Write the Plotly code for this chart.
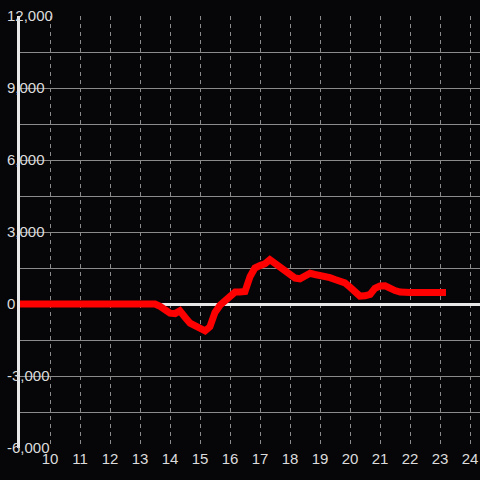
import plotly.graph_objects as go

hours = [9.0, 13.5, 13.67, 13.83, 14.0, 14.17, 14.33, 14.5, 14.67, 14.83, 15.0, 15.17,
         15.33, 15.5, 15.67, 15.83, 16.0, 16.17, 16.33, 16.5, 16.67, 16.83, 17.0,
         17.17, 17.33, 17.5, 17.67, 17.83, 18.0, 18.17, 18.33, 18.5, 18.67, 18.83,
         19.0, 19.17, 19.33, 19.5, 19.67, 19.83, 20.0, 20.17, 20.33, 20.5, 20.67,
         20.83, 21.0, 21.17, 21.33, 21.5, 21.67, 21.83, 22.0, 22.5, 23.0, 23.2]
values = [0, 0, -100, -250, -380, -400, -280, -550, -800, -900, -1050, -1120,
          -950, -350, -50, 150, 300, 500, 500, 520, 1150, 1500, 1600,
          1680, 1850, 1700, 1500, 1350, 1200, 1080, 1050, 1200, 1280, 1230,
          1200, 1150, 1100, 1020, 980, 880, 700, 480, 330, 340, 400,
          650, 750, 760, 650, 560, 500, 480, 480, 480, 480, 480]

x_ticks = list(range(10, 25))
y_ticks = [-6000, -3000, 0, 3000, 6000, 9000, 12000]
y_tick_labels = ["-6,000", "-3,000", "0", "3,000", "6,000", "9,000", "12,000"]

fig = go.Figure()
fig.add_trace(go.Scatter(x=hours, y=values, mode="lines",
                         line=dict(color="#ff0000", width=7),
                         hoverinfo="skip", showlegend=False))

fig.update_layout(
    width=480, height=480,
    margin=dict(l=20, r=0, t=16, b=32),
    paper_bgcolor="#060609", plot_bgcolor="#060609",
    font=dict(family="Liberation Sans, Arial, sans-serif", size=15, color="#dcdcdc"),
)
fig.update_xaxes(
    range=[9.0, 24.333], tickvals=x_ticks, ticktext=[str(v) for v in x_ticks],
    showgrid=True, gridcolor="#8a8a8a", gridwidth=1, griddash="4px,4px",
    zeroline=False, showline=False, ticks="", tickfont=dict(size=15, color="#dcdcdc"),
)
fig.update_yaxes(
    range=[-6000, 12000], tickvals=y_ticks, ticktext=y_tick_labels,
    showgrid=True, gridcolor="#8a8a8a", gridwidth=1,
    minor=dict(dtick=1500, tick0=0, showgrid=True, gridcolor="#8a8a8a", gridwidth=1),
    zeroline=True, zerolinecolor="#e8e8e8", zerolinewidth=3,
    showline=True, linecolor="#e8e8e8", linewidth=3,
    ticks="", ticklabelposition="inside", ticklabelstandoff=-13,
    ticklabeloverflow="allow", tickfont=dict(size=15, color="#dcdcdc"),
)

fig.write_html("out.html", config={"displayModeBar": False},
               post_script="document.body.style.margin='0';document.body.style.background='#060609';")
